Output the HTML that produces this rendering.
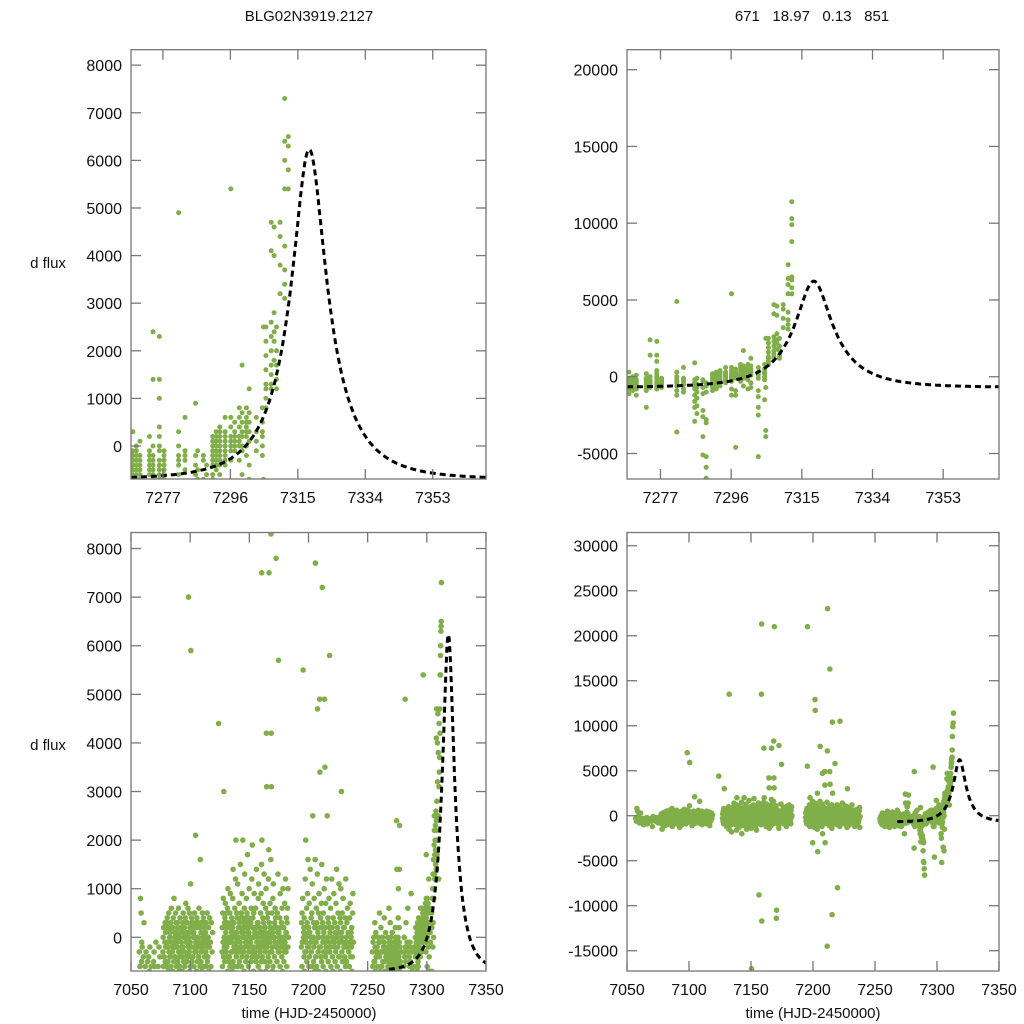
<!DOCTYPE html>
<html><head><meta charset="utf-8"><style>
html,body{margin:0;padding:0;background:#fff;overflow:hidden;width:1024px;height:1024px;}
svg{display:block;font-family:"Liberation Sans",sans-serif;}
</style></head><body>
<svg id="chart" width="1024" height="1024" viewBox="0 0 1024 1024" xmlns="http://www.w3.org/2000/svg">
<rect width="1024" height="1024" fill="#fff"/>
<text x="309" y="21" font-size="15" text-anchor="middle" fill="#111">BLG02N3919.2127</text>
<text x="812" y="21" font-size="15" text-anchor="middle" fill="#111" xml:space="preserve">671   18.97   0.13   851</text>
<text x="48" y="268" font-size="15" text-anchor="middle" fill="#111">d flux</text>
<text x="48" y="750" font-size="15" text-anchor="middle" fill="#111">d flux</text>
<text x="309" y="1018" font-size="15" text-anchor="middle" fill="#111">time (HJD-2450000)</text>
<text x="813" y="1018" font-size="15" text-anchor="middle" fill="#111">time (HJD-2450000)</text>
<g id="panels"></g>
</svg>
<script>
// ---- data: observation nights (HJD-2450000) and flux values in units of 100 ----
const nightTimes = [7058,7060,7063,7066,7070,7074,7078,7080,7082,7084,7086,7088,7090,7092,7094,7096,7098,7100,7102,7104,7106,7108,7110,7112,7114,7116,7118,7124,
7128,7130,7132,7134,7136,7138,7140,7142,7144,7146,7148,7150,7152,7154,7156,7158,7160,7162,7164,7166,7168,7170,7172,7174,7176,7178,7180,7182,
7195,7197,7199,7201,7203,7205,7207,7209,7211,7213,7215,7217,7219,7221,7223,7225,7227,7229,7231,7233,7235,7237,
7255,7257,7259,7261,7263,7265,7267,7268.5,7269.5,7270.5,7273.2,7274.2,7276,7277.3,7281.4,7283.2,7286.2,7286.8,7288.4,7289.3,7291,7292,7293,7294.5,7296.1,7297.2,7298.5,7299.3,7300.5,7301.3,7303.3,7305,7305.3,7306,7307.5,7308.3,7309,7310,7311.3,7312.3];
const nightFlux = [
[-3,-6,8,5,-1],[-5,-2,-8,-4,3],[-6,-3,-10,-5],[-4,-7,-2,-9,-6],[-5,-3,-6,-12,-1],[-6,-2,-4,-8],
[-3,0,-6,2,-9,-4,-15,-1,3,-5],[-5,1,-2,-8,3,-6,-11,4,-1,2],[-2,-5,2,-7,5,-3,-10,0,-4,1],[0,-4,3,-6,-1,6,-9,-3,2,-2],[-3,2,-7,4,-1,-5,8,-12,0,-2],
[1,-4,-2,5,-8,3,-6,0,-1,2],[-2,3,-5,1,-9,6,-3,-7,0,-4],[0,-6,4,-3,2,-8,-1,-13,1,-2],[-4,1,-7,3,-2,5,-10,-5,0,2],[2,-3,-6,0,4,-8,7,-1,-4,1],
[-1,-5,3,-9,1,-4,6,-2,70,0,-3],[0,-3,5,-7,2,-1,-6,11,59,-4,3],[-2,4,-5,1,-8,3,-4,-11,0,2],[1,-6,-2,5,-3,0,-9,21,-1,3],[-3,2,-7,4,-1,-5,3,-2,0,-4],
[0,-4,6,-2,-8,2,-6,16,-1,3],[-5,1,-3,3,-7,-1,5,-10,0,-2],[-2,4,-6,0,2,-4,-8,1,-1,3],[1,-3,-6,3,-1,-9,5,-5,0,-2],[-4,0,2,-7,-2,4,-11,-1],[-1,-6,3,-3,1],[44],
[-3,2,-6,5,-1,-9,8,-4,30,0,-2,3],[0,-5,4,-2,7,-8,1,-12,-3,2,-1,5],[-2,3,-7,6,-4,10,-1,-15,135,0,-5,2],[2,-4,-1,5,-6,9,-10,3,-18,0,-3,1],[-1,4,-3,-7,2,8,-5,14,-9,0,3,-2],
[3,-2,-6,1,6,-10,-3,12,-16,20,0,-1],[-4,1,5,-2,-8,4,11,-6,-13,0,2,-3],[0,-3,7,-5,3,-9,2,-1,15,-20,4,-2],[-2,5,-6,1,-4,9,-11,4,20,0,-3,2],[1,-3,3,-7,6,-2,13,-9,-15,0,-1,4],
[-5,2,-1,8,-4,5,-12,0,17,3,-2,1],[2,-6,4,-3,1,10,-8,-14,-170,0,-1,3],[-1,3,-5,6,-2,-9,12,-4,19,0,2,-3],[4,-2,0,-7,5,-11,9,-3,-16,1,-4,2],[-3,1,6,-5,2,-8,14,-1,-88,0,3,-2],
[0,-4,3,-6,8,-2,11,-10,320,135,213,-117,1,-1],[2,-3,-7,5,-1,9,-5,15,75,20,0,-2],[-4,1,4,-2,7,-9,3,-12,13,0,-1,2],[1,-5,2,-3,6,-7,10,-1,42,31,-14,0],
[-2,4,-6,0,5,-4,12,-11,18,75,1,-1],[3,-1,-5,7,-3,2,-9,16,83,42,31,210,0],[-3,5,-2,-7,1,8,-6,11,-114,-105,0,2],[0,-4,3,-1,6,-10,4,-14,78,-2,2],
[-2,2,-5,5,-8,1,13,-3,57,0,-1],[1,-3,-1,4,-6,9,-9,2,0,-2],[-1,3,-4,6,-2,-7,10,-12,0,2],[2,-5,0,-3,7,-1,-8,12,-2,1],[-3,1,4,-6,3,-9,6,-2,10,0],
[-2,3,-6,5,-1,-9,8,55,210,0,2],[1,-4,4,-7,2,-3,12,-12,20,-1,0],[-3,0,6,-5,3,-10,9,-2,16,-30,1],[2,-2,-6,7,-4,1,-13,14,129,117,0],[-1,4,-3,-8,5,-6,11,-15,25,-40,0],
[0,-5,3,-2,8,-10,2,-7,16,77,-1],[-4,2,-1,6,-6,3,-12,13,47,-20,0],[1,-3,5,-7,0,9,-9,-2,49,34,-30,2],[-2,4,-4,2,-8,7,-5,15,-145,72,230,0],
[3,-1,-6,5,-3,1,-11,10,49,163,35,-1],[-1,2,-4,7,-7,-2,12,-14,-110,104,25,0],[0,-3,4,-5,3,-9,8,-1,58,2],[-3,1,-2,6,-6,2,-10,12,-80,0],
[2,-4,0,-7,4,-1,9,-12,105,-2],[-1,3,-5,1,-3,7,-8,14,0],[0,-6,2,-2,5,-9,-4,11,-1],[-4,1,-1,4,-7,3,10,-13,30,0],[1,-3,5,-5,-1,8,-10,2,-2],
[-2,2,-4,-8,4,-6,12,-1,0],[0,-5,3,-2,6,-9,1,-12,-3],[-3,1,-6,4,-1,7,-4,-10,0],[1,-2,2,-7,-4,5,9,-13,-1],
[-3,-6,-1,-8,0,-5,-10,3],[-5,-2,-7,1,-4,-9,-3,-12],[-2,-6,-4,0,-8,-1,-11,5],[-4,-1,-7,-3,2,-6,-13,-9],[-6,-3,0,-5,-8,-2,-10,4],
[-1,-5,-3,-7,1,-4,-12,-9],[-4,-7,-2,0,-6,-9,-3,6],[-6,-2,-5,-8,-1,-4,-11,3,-3,-7],[-3,-6,-1,-4,-7,0,-9,-5,-2],[-5,-2,-7,-3,-8,1,-4,-12,-6],
[-4,-1,-6,-3,-9,2,-5,-20,-8,-2],[-2,-5,0,-7,-3,24,14,-4,-6],[-6,-3,-1,-8,0,4,10,-5,-4,-7,2,14,23],[-4,-1,-7,-2,-5,-6,-3],
[-3,-6,0,-9,-4,-36,49,-2,-12,3],[-5,-2,-8,-1,-3,6,-10],[-4,-6,-2,-12,-16,-20,9,-29,-8],[-1,-5,-10,-14,-19,-24,-7],
[-3,-7,-11,-22,-26,-39,-51,-2],[-6,-10,-28,-30,-52,-59,-66,-4],[-3,0,-6,2,-2,-9,-1,-4,1,-7],[-1,2,-4,0,-8,3,-2,-5,1,-3],
[0,-3,2,-6,1,4,-2,-1,3,-4],[1,-2,3,-1,-4,6,0,-3,2],[2,0,4,-3,6,1,-8,-1,54,-12],[3,1,5,-1,-9,2,-12,-46,0],[2,4,1,6,0,-3,8],
[3,5,7,-1,17,0,2,-6],[4,2,6,8,0,3,5,-2,-8],[5,3,7,1,12,-4,-7],[3,6,1,-1,-20,-25,-52,-9,-13],[5,2,8,-2,3,0,-15],[-7,-35,-39,25],
[10,13,16,8,19,22,12,25],[13,17,20,23,15,26,41,47,12],[18,22,24,28,40,46],[14,17,20,25,12],[32,38,44,47],
[31,34,37,42,54,60,64,73],[54,58,63,65,88,99,103,114]];
const fluxUnit = 100;
// model parameters (Paczynski): t0, tE, u0, baseline, peak amplitude
const modelT0 = 7318.2, modelTE = 16, modelU0 = 0.3, modelBase = -700, modelAmp = 6930;
const topXTicks = [7277,7296,7315,7334,7353];
const bottomXTicks = [7050,7100,7150,7200,7250,7300,7350];
const tlYTicks = [0,1000,2000,3000,4000,5000,6000,7000,8000];
const trYTicks = [-5000,0,5000,10000,15000,20000];
const blYTicks = [0,1000,2000,3000,4000,5000,6000,7000,8000];
const brYTicks = [-15000,-10000,-5000,0,5000,10000,15000,20000,25000,30000];

const NS = "http://www.w3.org/2000/svg";
function mk(tag, attrs, parent){ const e=document.createElementNS(NS,tag); for(const k in attrs) e.setAttribute(k,attrs[k]); parent.appendChild(e); return e; }
function magn(u){ return (u*u+2)/(u*Math.sqrt(u*u+4)); }
function model(t){ const u=Math.sqrt(modelU0*modelU0+Math.pow((t-modelT0)/modelTE,2)); const a0=magn(modelU0); return modelBase+modelAmp*(magn(u)-1)/(a0-1); }

const panels = [
 {id:"top-left", x0:131,x1:486,y0:49.7,y1:479, xr:[7268,7368], yr:[-693,8325], xt:topXTicks, yt:tlYTicks, m:[7268,7368], spread:0},
 {id:"top-right", x0:627,x1:999,y0:49.7,y1:479, xr:[7268,7368], yr:[-6660,21300], xt:topXTicks, yt:trYTicks, m:[7268,7368], spread:0},
 {id:"bottom-left", x0:131,x1:486,y0:532.5,y1:971, xr:[7050,7350], yr:[-693,8330], xt:bottomXTicks, yt:blYTicks, m:[7268,7350], spread:2.4},
 {id:"bottom-right", x0:627,x1:999,y0:532.5,y1:971, xr:[7050,7350], yr:[-17255,31470], xt:bottomXTicks, yt:brYTicks, m:[7268,7350], spread:2.4}
];
const root = document.getElementById("panels");
panels.forEach(p=>{
  const sx=t=>p.x0+(t-p.xr[0])/(p.xr[1]-p.xr[0])*(p.x1-p.x0);
  const sy=v=>p.y1-(v-p.yr[0])/(p.yr[1]-p.yr[0])*(p.y1-p.y0);
  const g=mk("g",{},root);
  
  
  const cp=mk("clipPath",{id:"clip-"+p.id},g);
  mk("rect",{x:p.x0,y:p.y0,width:p.x1-p.x0,height:p.y1-p.y0},cp);
  const pts=mk("g",{"clip-path":"url(#clip-"+p.id+")",fill:"#80ae48"},g);
  
  
  nightTimes.forEach((t,i)=>{
    if(t<p.xr[0]-1||t>p.xr[1]+1) return;
    const vals=nightFlux[i], n=vals.length;
    vals.forEach((v,k)=>{
      const f=v*fluxUnit;
      const pad=(p.yr[1]-p.yr[0])*0.01;
      if(f<p.yr[0]-pad||f>p.yr[1]+pad) return;
      // visual spread of a night's exposures across the pixel column width
      const off = n>1 ? (k/(n-1)-0.5)*p.spread : 0;
      const c=mk("circle",{cx:(sx(t)+off).toFixed(1),cy:sy(f).toFixed(1),r:p.spread?2.8:2.5},pts);
      
      
    });
  });
  let d="";
  for(let t=p.m[0]; t<=p.m[1]+0.001; t+=0.25){ d+=(d?"L":"M")+sx(t).toFixed(1)+","+sy(model(t)).toFixed(1); }
  const ml=mk("path",{d:d,fill:"none",stroke:"#000","stroke-width":3,"stroke-dasharray":"6,4","clip-path":"url(#clip-"+p.id+")"},g);
  
  
  const fr=mk("rect",{x:p.x0,y:p.y0,width:p.x1-p.x0,height:p.y1-p.y0,fill:"none",stroke:"#777","stroke-width":1.3},g);
  
  
  p.xt.forEach(t=>{
    const x=sx(t);
    mk("line",{x1:x,x2:x,y1:p.y1,y2:p.y1-10,stroke:"#777","stroke-width":1.3},g);
    mk("line",{x1:x,x2:x,y1:p.y0,y2:p.y0+10,stroke:"#777","stroke-width":1.3},g);
    const tx=mk("text",{x:x,y:p.y1+24,"font-size":16,"text-anchor":"middle",fill:"#111"},g);
    tx.textContent=t;
    
    
  });
  p.yt.forEach(v=>{
    const y=sy(v);
    mk("line",{x1:p.x0,x2:p.x0+10,y1:y,y2:y,stroke:"#777","stroke-width":1.3},g);
    mk("line",{x1:p.x1,x2:p.x1-10,y1:y,y2:y,stroke:"#777","stroke-width":1.3},g);
    const ty=mk("text",{x:p.x0-9,y:y+6,"font-size":16,"text-anchor":"end",fill:"#111"},g);
    ty.textContent=v;
    
    
  });
});
</script>
</body></html>
